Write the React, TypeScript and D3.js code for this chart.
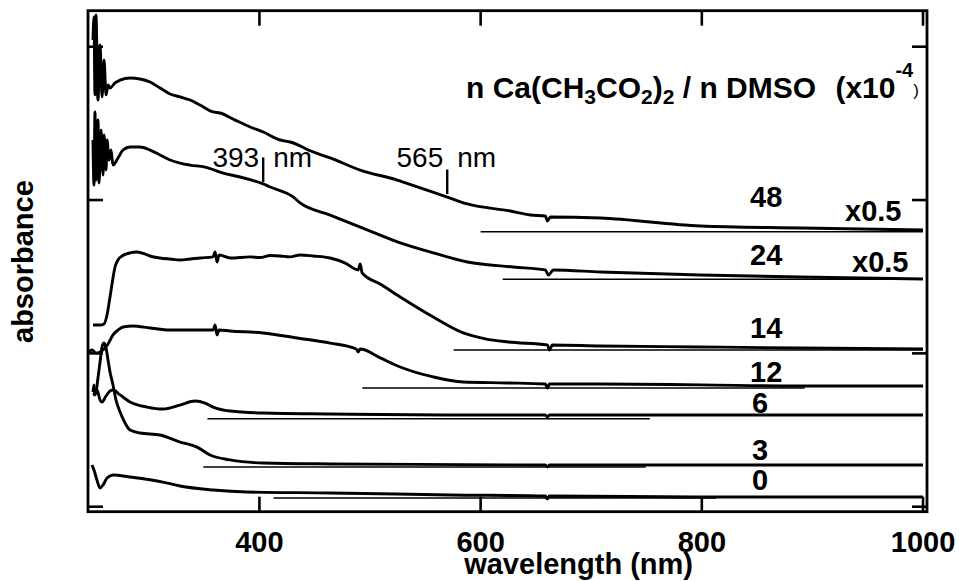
import React from "react";
import * as d3 from "d3";

const W = 959;
const H = 581;

// axis ticks
const xTickValues = [400, 600, 800, 1000];
const xTickLabels = ["400", "600", "800", "1000"];
const yTickValues = [0, 1, 2, 3];

// spectra (wavelength nm, absorbance above each spectrum's own baseline)
const wl48 = [249.5, 250.4, 251.3, 252.2, 254.0, 255.9, 257.7, 259.5, 261.3, 263.1, 264.9, 269.4, 274.0, 283.0, 292.0, 301.1, 310.1, 319.2, 328.2, 337.3, 346.3, 358.1, 364.4, 378.0, 391.6, 403.4, 418.7, 427.8, 448.6, 464.0, 491.1, 524.6, 545.4, 569.8, 588.0, 626.9, 645.0, 658.5, 660.4, 663.1, 708.3, 798.7, 889.2, 1000];
const ab48 = [1.250, 1.400, 0.892, 1.413, 0.859, 1.218, 0.879, 1.120, 0.892, 0.957, 0.937, 0.970, 0.989, 1.002, 0.996, 0.976, 0.937, 0.898, 0.879, 0.859, 0.826, 0.781, 0.774, 0.728, 0.683, 0.650, 0.598, 0.585, 0.520, 0.481, 0.402, 0.337, 0.285, 0.226, 0.181, 0.135, 0.109, 0.102, 0.070, 0.096, 0.089, 0.037, 0.024, 0.011];

const wl24 = [249.5, 250.4, 251.3, 252.2, 254.0, 255.0, 256.8, 258.6, 259.5, 261.3, 262.2, 264.0, 265.8, 267.6, 272.1, 276.7, 283.0, 292.0, 301.1, 310.1, 319.2, 328.2, 337.3, 350.8, 367.2, 382.5, 403.4, 409.7, 430.5, 436.8, 464.0, 497.4, 527.3, 557.2, 588.0, 629.6, 658.5, 661.3, 665.8, 708.3, 798.7, 889.2, 1000];
const ab24 = [0.909, 0.615, 1.091, 0.648, 1.039, 0.628, 0.974, 0.680, 0.941, 0.713, 0.909, 0.778, 0.843, 0.745, 0.791, 0.843, 0.863, 0.863, 0.843, 0.811, 0.778, 0.758, 0.745, 0.732, 0.693, 0.667, 0.622, 0.602, 0.537, 0.498, 0.419, 0.322, 0.237, 0.172, 0.113, 0.080, 0.061, 0.028, 0.061, 0.048, 0.028, 0.015, 0.002];

const wl14 = [249.5, 255.9, 259.5, 262.2, 264.9, 267.6, 269.4, 272.1, 275.8, 283.0, 289.3, 296.6, 301.1, 310.1, 319.2, 328.2, 337.3, 346.3, 358.1, 359.9, 361.7, 363.5, 373.5, 391.6, 400.5, 409.7, 418.7, 427.8, 436.8, 448.6, 464.0, 477.6, 489.3, 491.1, 492.9, 509.2, 527.3, 557.2, 584.3, 604.3, 625.1, 660.4, 662.2, 664.9, 708.3, 798.7, 889.2, 1000];
const ab14 = [0.163, 0.163, 0.170, 0.228, 0.346, 0.470, 0.541, 0.587, 0.613, 0.633, 0.639, 0.626, 0.613, 0.600, 0.593, 0.587, 0.593, 0.600, 0.607, 0.639, 0.574, 0.620, 0.600, 0.607, 0.603, 0.616, 0.613, 0.607, 0.620, 0.613, 0.600, 0.567, 0.522, 0.561, 0.502, 0.430, 0.346, 0.215, 0.111, 0.072, 0.052, 0.033, 0.000, 0.033, 0.026, 0.020, 0.013, 0.007];

const wl12 = [245.0, 248.6, 252.2, 255.9, 259.5, 263.1, 267.6, 272.1, 276.7, 285.7, 301.1, 319.2, 346.3, 358.1, 359.9, 361.7, 363.5, 373.5, 403.4, 434.1, 464.0, 487.5, 489.3, 491.1, 509.2, 527.3, 557.2, 584.3, 624.2, 658.5, 660.4, 662.2, 708.3, 798.7, 889.2, 1000];
const ab12 = [0.235, 0.248, 0.228, 0.235, 0.254, 0.287, 0.346, 0.378, 0.398, 0.404, 0.391, 0.378, 0.378, 0.378, 0.411, 0.346, 0.378, 0.372, 0.359, 0.326, 0.293, 0.254, 0.235, 0.254, 0.196, 0.137, 0.072, 0.039, 0.033, 0.026, 0.000, 0.026, 0.026, 0.020, 0.013, 0.013];

const wl6 = [249.5, 250.4, 251.3, 253.1, 255.9, 257.7, 261.3, 264.9, 267.6, 274.0, 283.0, 298.4, 312.8, 328.2, 341.8, 350.8, 358.1, 373.5, 403.4, 464.0, 572.8, 658.5, 660.4, 662.2, 798.7, 1000];
const ab6 = [0.174, 0.220, 0.155, 0.187, 0.122, 0.109, 0.148, 0.181, 0.187, 0.155, 0.109, 0.076, 0.063, 0.089, 0.115, 0.102, 0.076, 0.050, 0.037, 0.031, 0.024, 0.024, 0.011, 0.024, 0.024, 0.024];

const wl3 = [249.5, 252.2, 254.0, 255.9, 257.7, 259.5, 261.3, 263.1, 264.9, 267.6, 270.3, 274.0, 278.5, 283.0, 292.0, 310.1, 328.2, 343.6, 355.4, 373.5, 403.4, 464.0, 658.5, 660.4, 662.2, 1000];
const ab3 = [0.470, 0.489, 0.580, 0.685, 0.783, 0.809, 0.776, 0.698, 0.620, 0.535, 0.437, 0.359, 0.287, 0.241, 0.222, 0.209, 0.163, 0.130, 0.078, 0.046, 0.026, 0.020, 0.013, 0.000, 0.013, 0.013];

const wl0 = [248.6, 250.4, 253.1, 255.9, 258.6, 262.2, 267.6, 283.0, 312.8, 328.2, 358.1, 388.9, 464.0, 572.8, 658.5, 660.4, 662.2, 798.7, 1000];
const ab0 = [0.215, 0.183, 0.117, 0.065, 0.085, 0.130, 0.150, 0.137, 0.104, 0.078, 0.052, 0.039, 0.033, 0.020, 0.013, -0.007, 0.013, 0.007, 0.007];

// series meta
const seriesNames = ["48", "24", "14", "12", "6", "3", "0"];
const seriesWl = [wl48, wl24, wl14, wl12, wl6, wl3, wl0];
const seriesAb = [ab48, ab24, ab14, ab12, ab6, ab3, ab0];
const offsets = [1.7935, 1.4831, 1.022, 0.7742, 0.5739, 0.2589, 0.0567];
const baseStart = [600, 620, 575.6, 493, 353, 349.3, 412.7];
const baseEnd = [1000, 1000, 1000, 893, 753, 749.3, 812.7];
const scaleNotes = ["x0.5", "x0.5", "", "", "", "", ""];

// annotation markers
const markerLabels = ["393", "565"];
const markerNm = [403.4, 569.8];
const markerBottom = [2.118, 2.039];

const FONT = "'Liberation Sans', Arial, Helvetica, sans-serif";

export default function App() {
  const left = 88, right = 927, top = 10.7, bottom = 511.7;
  const x = d3.scaleLinear().domain([245, 1003.6]).range([left, right]);
  const y = d3.scaleLinear().domain([0, 3]).range([506.7, 46.7]);
  const unitPx = y(0) - y(1);

  const line = d3
    .line<[number, number]>()
    .x((d) => x(d[0]))
    .y((d) => y(d[1]))
    .curve(d3.curveMonotoneX);

  const tickLen = 15;
  const labelX = [750, 750, 750, 750, 752, 752, 752];
  const labelBaselines = [207, 265, 338, 382, 413, 460, 490];
  const notePos = [
    [845, 221],
    [852, 272],
  ];

  return (
    <svg
      width={W}
      height={H}
      style={{ position: "absolute", left: 0, top: 0, background: "#fff" }}
      fontFamily={FONT}
    >
      <defs>
        <clipPath id="plotclip">
          <rect x={left} y={top} width={right - left} height={bottom - top} />
        </clipPath>
      </defs>
      <rect x={0} y={0} width={W} height={H} fill="#fff" />

      <g clipPath="url(#plotclip)">
        {seriesNames.map((name, i) => {
          const pts: [number, number][] = seriesWl[i].map((w, k) => [w, seriesAb[i][k] + offsets[i]]);
          return (
            <g key={name}>
              <line
                x1={x(baseStart[i])}
                x2={x(Math.min(baseEnd[i], 1000))}
                y1={y(offsets[i])}
                y2={y(offsets[i])}
                stroke="#000"
                strokeWidth={1.4}
              />
              <path d={line(pts) || ""} fill="none" stroke="#000" strokeWidth={2.9} strokeLinejoin="round" />
            </g>
          );
        })}
      </g>

      {/* frame */}
      <rect x={left} y={top} width={right - left} height={bottom - top} fill="none" stroke="#000" strokeWidth={2.8} />

      {/* x ticks */}
      {xTickValues.map((v, i) => (
        <g key={"xt" + v}>
          <line x1={x(v)} x2={x(v)} y1={bottom} y2={bottom - tickLen} stroke="#000" strokeWidth={2.6} />
          <line x1={x(v)} x2={x(v)} y1={top} y2={top + tickLen} stroke="#000" strokeWidth={2.6} />
          <text x={x(v)} y={552} textAnchor="middle" fontSize={29} fontWeight="bold">
            {xTickLabels[i]}
          </text>
        </g>
      ))}

      {/* y ticks */}
      {yTickValues.map((v) => (
        <g key={"yt" + v}>
          <line x1={left} x2={left + tickLen} y1={y(v)} y2={y(v)} stroke="#000" strokeWidth={2.6} />
          <line x1={right} x2={right - tickLen} y1={y(v)} y2={y(v)} stroke="#000" strokeWidth={2.6} />
        </g>
      ))}

      {/* axis titles */}
      <text x={693} y={574} textAnchor="end" fontSize={29} fontWeight="bold">
        wavelength (nm)
      </text>
      <text transform={`translate(33,343) rotate(-90)`} textAnchor="start" fontSize={29} fontWeight="bold">
        absorbance
      </text>

      {/* legend title */}
      <text x={466} y={98} fontSize={30} fontWeight="bold" style={{ whiteSpace: "pre" }}>
        <tspan>n Ca(CH</tspan>
        <tspan fontSize={21} dy={6}>3</tspan>
        <tspan dy={-6}>CO</tspan>
        <tspan fontSize={21} dy={6}>2</tspan>
        <tspan dy={-6}>)</tspan>
        <tspan fontSize={21} dy={6}>2</tspan>
        <tspan dy={-6}>{" / n DMSO "}</tspan>
        <tspan dx={11}>(x10</tspan>
        <tspan fontSize={20} dy={-21}>-4</tspan>
        <tspan fontSize={17} fontWeight="normal" dy={19}>)</tspan>
      </text>

      {/* series labels */}
      {seriesNames.map((name, i) => (
        <text key={"lab" + name} x={labelX[i]} y={labelBaselines[i]} fontSize={29} fontWeight="bold">
          {name}
        </text>
      ))}
      {scaleNotes.map((n, i) =>
        n ? (
          <text key={"note" + i} x={notePos[i][0]} y={notePos[i][1]} fontSize={29} fontWeight="bold">
            {n}
          </text>
        ) : null
      )}

      {/* peak markers */}
      {markerLabels.map((lab, i) => (
        <g key={"mk" + lab}>
          <line
            x1={x(markerNm[i])}
            x2={x(markerNm[i])}
            y1={y(markerBottom[i])}
            y2={y(markerBottom[i]) - 0.16 * unitPx}
            stroke="#000"
            strokeWidth={2.4}
          />
          <text x={x(markerNm[i]) - 4} y={167} textAnchor="end" fontSize={28}>
            {lab}
          </text>
          <text x={x(markerNm[i]) + 10} y={167} textAnchor="start" fontSize={28}>
            nm
          </text>
        </g>
      ))}
    </svg>
  );
}
